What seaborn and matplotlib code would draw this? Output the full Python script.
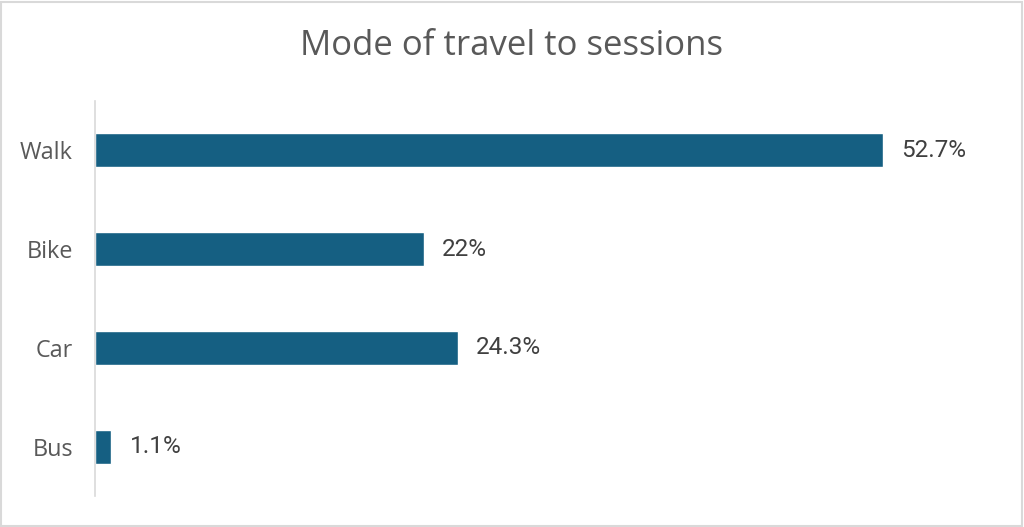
import matplotlib
matplotlib.use("Agg")
import matplotlib.pyplot as plt
import seaborn as sns
import pandas as pd
from matplotlib.patches import Rectangle

categories = ["Walk", "Bike", "Car", "Bus"]
values = [52.7, 22.0, 24.3, 1.1]
value_labels = ["52.7%", "22%", "24.3%", "1.1%"]

sns.set_theme(style="white")
plt.rcParams["font.family"] = ["Open Sans", "DejaVu Sans"]

df = pd.DataFrame({"mode": categories, "pct": values})

fig = plt.figure(figsize=(10.24, 5.27), dpi=100)
ax = fig.add_axes([95/1024, 1-496/527, (992-95)/1024, (496-101)/527])

sns.barplot(data=df, y="mode", x="pct", orient="h", color="#155F82",
            saturation=1, width=0.345, ax=ax, order=categories)

ax.set_xlim(0, 60)
ax.set_ylim(3.5, -0.5)
ax.set_xlabel("")
ax.set_ylabel("")
ax.set_xticks([])
for s in ["top", "right", "bottom"]:
    ax.spines[s].set_visible(False)
ax.spines["left"].set_color("#d9d9d9")
ax.spines["left"].set_linewidth(1.2)
ax.tick_params(axis="y", length=0, pad=16, labelsize=16.8, labelcolor="#595959")

for i, (v, lab) in enumerate(zip(values, value_labels)):
    ax.annotate(lab, xy=(v, i), xytext=(13, 0), textcoords="offset points",
                va="center", ha="left", fontsize=17.5, color="#404040",
                family=["Roboto", "DejaVu Sans"])

fig.text(0.5, 1-46/527, "Mode of travel to sessions", ha="center", va="center",
         fontsize=25, color="#595959")

fig.patches.append(Rectangle((0.001, 0.002), 0.997, 0.995, transform=fig.transFigure,
                             fill=False, edgecolor="#d9d9d9", linewidth=1.5))

fig.savefig("out.png", dpi=100, facecolor="white")
